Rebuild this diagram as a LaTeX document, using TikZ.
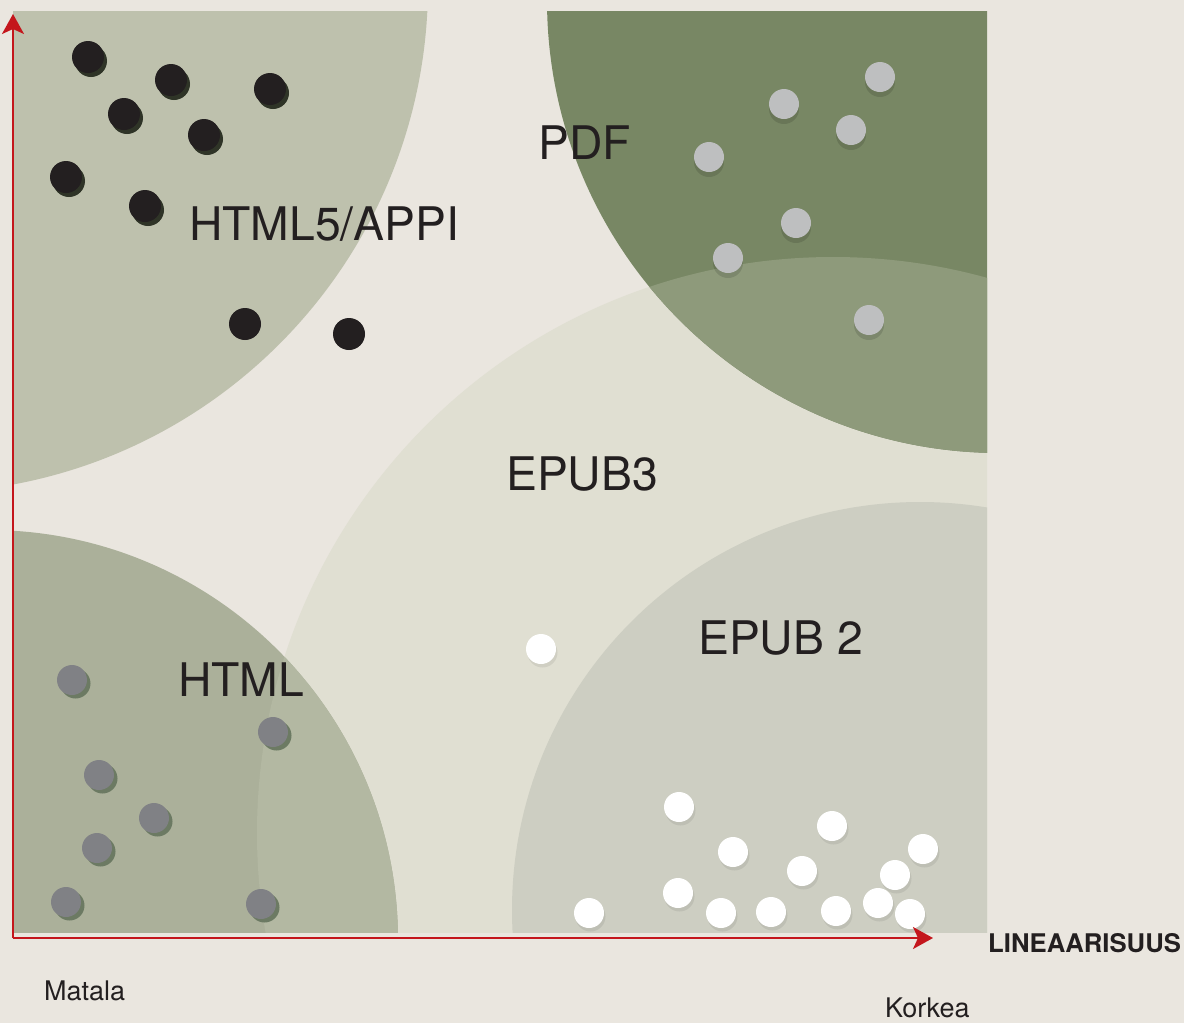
\documentclass[tikz,border=0pt]{standalone}
\usepackage{fontspec}
\setmainfont{TeX Gyre Heros}
\usetikzlibrary{arrows.meta,shadows}
\definecolor{bg}{HTML}{EAE6DF}
\definecolor{cApp}{HTML}{BEC1AD}
\definecolor{cPdf}{HTML}{788764}
\definecolor{cPdfMix}{HTML}{8E9A7B}
\definecolor{cEpubThree}{HTML}{E0DFD2}
\definecolor{cEpubTwo}{HTML}{CDCEC2}
\definecolor{cHtml}{HTML}{ABB09A}
\definecolor{cHtmlMix}{HTML}{B3B8A2}
\definecolor{cBlack}{HTML}{231F20}
\definecolor{cBlackSh}{HTML}{2F3427}
\definecolor{cGrey}{HTML}{808185}
\definecolor{cGreySh}{HTML}{6C7A63}
\definecolor{cLight}{HTML}{BEBFC0}
\definecolor{cRed}{HTML}{C4161C}
\definecolor{cText}{HTML}{231F20}
\begin{document}
\begin{tikzpicture}[x=1pt,y=-1pt,
  dot/.style={circle, inner sep=0pt, outer sep=0pt},
  blackdot/.style={dot, minimum size=32pt, fill=cBlack,
     drop shadow={shadow xshift=3pt, shadow yshift=-4pt, fill=cBlackSh, opacity=1}},
  plainblack/.style={dot, minimum size=32pt, fill=cBlack},
  greydot/.style={dot, minimum size=30pt, fill=cGrey,
     drop shadow={shadow xshift=3.5pt, shadow yshift=-3.5pt, fill=cGreySh, opacity=1}},
  lightdot/.style={dot, minimum size=30pt, fill=cLight,
     drop shadow={shadow xshift=0pt, shadow yshift=-5pt, fill=black, opacity=0.12}},
  whitedot/.style={dot, minimum size=30pt, fill=white,
     drop shadow={shadow xshift=1.5pt, shadow yshift=-3.5pt, fill=black, opacity=0.07}},
  biglabel/.style={anchor=base west, inner sep=0pt, text=cText, font=\fontsize{46.3}{55}\selectfont},
  smalllabel/.style={anchor=base west, inner sep=0pt, text=cText, font=\fontsize{27}{32}\selectfont},
  axislabel/.style={anchor=base west, inner sep=0pt, text=cText, font=\bfseries\fontsize{25.7}{30}\selectfont},
  axis/.style={draw=cRed, line width=2pt, -{Stealth[length=20pt, width=22pt, inset=5pt]}}
]
\useasboundingbox (0,0) rectangle (1184,1023);
\fill[bg] (0,0) rectangle (1184,1023);

% regions
\begin{scope}
  \clip (13,11) rectangle (987,932);
  \fill[cEpubThree] (833,833) circle[radius=576];
  \fill[cPdf] (1000,0) circle[radius=453];
  \fill[cHtml] (-12,940) circle[radius=410];
  \fill[cApp] (-80,-15) circle[radius=508];
  \begin{scope}
    \clip (833,833) circle[radius=576];
    \fill[cPdfMix] (1000,0) circle[radius=453];
    \fill[cHtmlMix] (-12,940) circle[radius=410];
  \end{scope}
  \fill[cEpubTwo] (920,910) circle[radius=408];
\end{scope}

% dots
\foreach \p [count=\i] in {(88,57),(171,80),(270,89),(124,114),(204,135),(66,177),(145,206)}
  \node[blackdot] (b\i) at \p {};
\node[plainblack] (b8) at (245,324) {};
\node[plainblack] (b9) at (349,334) {};
\foreach \p [count=\i] in {(72,680),(273,732),(99,775),(154,818),(97,848),(66,902),(261,904)}
  \node[greydot] (g\i) at \p {};
\foreach \p [count=\i] in {(880,77),(784,104),(851,130),(709,157),(796,223),(728,258),(869,320)}
  \node[lightdot] (l\i) at \p {};
\foreach \p [count=\i] in {(541,649),(679,807),(832,826),(733,852),(923,849),(802,871),(895,875),(678,893),(878,903),(589,913),(721,913),(771,912),(836,911),(910,914)}
  \node[whitedot] (w\i) at \p {};

% labels
\node[biglabel] (pdf) at (538,159) {PDF};
\node[biglabel] (app) at (189,240) {HTML5/APPI};
\node[biglabel] (epub3) at (506,490) {EPUB3};
\node[biglabel] (epub2) at (698,654) {EPUB 2};
\node[biglabel] (html) at (178,696) {HTML};

% axes
\coordinate (O) at (13,938);
\coordinate (Ytip) at (13,14);
\coordinate (Xtip) at (933,938);
\draw[axis] (O) -- (Ytip);
\draw[axis] (O) -- (Xtip);

\node[axislabel] (lin) at (988,952) {LINEAARISUUS};
\node[smalllabel] (matala) at (44,1000) {Matala};
\node[smalllabel] (korkea) at (885,1017) {Korkea};
\end{tikzpicture}
\end{document}
